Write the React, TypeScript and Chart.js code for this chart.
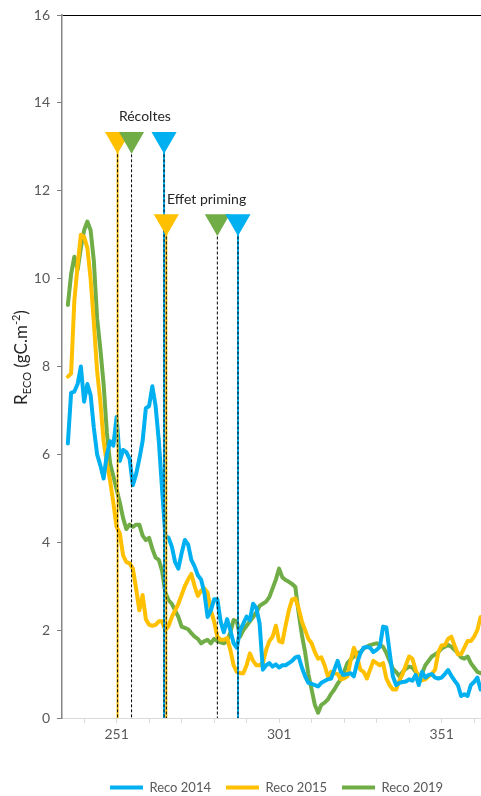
import React, { useEffect, useRef } from "react";
import { Chart, registerables } from "chart.js";

Chart.register(...registerables);

// ---- data ----
const days = [
  236, 237, 238, 239, 240, 241, 242, 243, 244, 245, 246, 247, 248, 249, 250,
  251, 252, 253, 254, 255, 256, 257, 258, 259, 260, 261, 262, 263, 264, 265,
  266, 267, 268, 269, 270, 271, 272, 273, 274, 275, 276, 277, 278, 279, 280,
  281, 282, 283, 284, 285, 286, 287, 288, 289, 290, 291, 292, 293, 294, 295,
  296, 297, 298, 299, 300, 301, 302, 303, 304, 305, 306, 307, 308, 309, 310,
  311, 312, 313, 314, 315, 316, 317, 318, 319, 320, 321, 322, 323, 324, 325,
  326, 327, 328, 329, 330, 331, 332, 333, 334, 335, 336, 337, 338, 339, 340,
  341, 342, 343, 344, 345, 346, 347, 348, 349, 350, 351, 352, 353, 354, 355,
  356, 357, 358, 359, 360, 361, 362, 363,
];

const reco2014 = [
  6.25, 7.4, 7.43, 7.6, 8.0, 7.2, 7.6, 7.35, 6.6, 6.0, 5.75, 5.45, 6.0, 6.3, 6.2,
  6.85, 5.85, 6.1, 6.05, 5.9, 5.3, 5.55, 5.9, 6.3, 7.05, 7.1, 7.55, 7.1, 6.3, 5.2,
  4.15, 4.1, 3.9, 3.55, 3.4, 3.75, 4.05, 3.95, 3.6, 3.45, 3.25, 3.15, 2.85, 2.3, 2.45,
  2.7, 2.7, 2.2, 1.95, 2.25, 2.0, 1.7, 1.6, 2.0, 2.15, 2.31, 2.23, 2.6, 2.5, 2.15,
  1.1, 1.2, 1.25, 1.17, 1.22, 1.15, 1.2, 1.2, 1.25, 1.3, 1.38, 1.4, 1.15, 0.95, 0.8,
  0.78, 0.75, 0.72, 0.8, 0.84, 0.88, 0.9, 1.1, 1.3, 1.05, 0.98, 1.0, 1.02, 0.95, 1.25,
  1.47, 1.6, 1.62, 1.6, 1.5, 1.55, 1.62, 2.08, 2.06, 1.5, 0.95, 0.75, 0.8, 0.82, 0.83,
  0.88, 0.85, 0.98, 0.75, 1.05, 0.92, 0.98, 1.0, 0.92, 0.9, 0.92, 1.0, 1.09, 0.96, 0.85,
  0.75, 0.5, 0.54, 0.5, 0.75, 0.82, 0.92, 0.65,
];

const reco2015 = [
  7.77, 7.84, 9.5, 10.3, 11.0, 10.95, 10.7, 10.0, 9.0, 7.9, 7.2, 6.3, 5.8, 5.4, 4.9,
  4.35, 4.2, 3.7, 3.55, 3.52, 3.4, 2.95, 2.45, 2.8, 2.25, 2.12, 2.1, 2.12, 2.2, 2.2,
  2.0, 2.1, 2.3, 2.45, 2.6, 2.8, 3.0, 3.15, 3.28, 3.0, 2.78, 2.9, 2.95, 2.85, 2.45,
  2.2, 1.85, 1.78, 1.78, 1.82, 1.55, 1.2, 1.05, 1.02, 1.02, 1.2, 1.47, 1.3, 1.2, 1.2,
  1.25, 1.55, 1.75, 1.85, 2.1, 1.75, 1.72, 2.1, 2.45, 2.7, 2.72, 2.5, 2.2, 2.0, 1.8,
  1.7, 1.5, 1.35, 1.38, 1.2, 0.95, 1.05, 1.02, 1.0, 0.88, 0.9, 0.95, 1.3, 1.6, 1.4,
  1.1, 1.05, 0.9, 1.1, 1.3, 1.25, 1.2, 1.25, 0.9, 0.75, 0.65, 0.65, 0.85, 1.0, 1.2,
  1.4, 1.35, 1.1, 0.9, 0.86, 0.88, 0.95, 1.0, 1.1, 1.5, 1.65, 1.66, 1.8, 1.85, 1.65,
  1.45, 1.45, 1.6, 1.75, 1.75, 1.85, 2.0, 2.3,
];

const reco2019 = [
  9.4, 10.1, 10.5, 10.2, 10.7, 11.1, 11.3, 11.1, 10.4, 9.1, 8.4, 7.6, 6.5, 5.8, 5.5,
  5.2, 4.9, 4.55, 4.3, 4.4, 4.35, 4.4, 4.4, 4.15, 4.05, 4.1, 3.85, 3.65, 3.6, 3.35,
  2.85, 2.68, 2.6, 2.45, 2.3, 2.08, 2.05, 2.02, 1.93, 1.85, 1.8, 1.7, 1.75, 1.78, 1.7,
  1.8, 1.75, 1.72, 1.7, 1.75, 1.95, 2.23, 2.2, 1.85, 2.0, 2.1, 2.2, 2.3, 2.4, 2.55,
  2.6, 2.65, 2.75, 2.95, 3.15, 3.4, 3.2, 3.14, 3.1, 3.05, 2.98, 2.4, 1.9, 1.5, 1.0,
  0.65, 0.3, 0.12, 0.3, 0.35, 0.42, 0.55, 0.65, 0.78, 0.88, 1.05, 1.25, 1.33, 1.4, 1.48,
  1.5, 1.58, 1.62, 1.66, 1.68, 1.7, 1.66, 1.62, 1.48, 1.3, 1.12, 1.05, 0.95, 1.05, 1.12,
  1.17, 1.15, 1.05, 0.95, 1.02, 1.2, 1.3, 1.4, 1.45, 1.5, 1.58, 1.62, 1.66, 1.62, 1.55,
  1.48, 1.38, 1.35, 1.4, 1.25, 1.15, 1.05, 1.02,
];

const seriesLabels = ["Reco 2014", "Reco 2015", "Reco 2019"];
const C2014 = "#00B0F0";
const C2015 = "#FFC000";
const C2019 = "#70AD47";

const xTickDays = [241, 251, 261, 271, 281, 291, 301, 311, 321, 331, 341, 351, 361, 371, 381];
const xLabelDays = [251, 301, 351];

// event markers (order: 2015, 2019, 2014)
const markerColors = [C2015, C2019, C2014];
const harvestDays = [251.3, 255.6, 265.6];
const primingDays = [266.3, 282.0, 288.35];
const harvestLevel = 13.17;
const primingLevel = 11.3;

const annotationTexts = ["Récoltes", "Effet priming"];
const annotationDays = [259.7, 278.7];
const annotationValues = [13.7, 11.8];

const FONT = "Lato, 'Open Sans', sans-serif";
const GREY = "#595959";
const PLOT_LEFT = 62;
const PLOT_TOP = 15;
const PLOT_BOTTOM = 718;

export default function App() {
  const ref = useRef<HTMLCanvasElement | null>(null);

  useEffect(() => {
    if (!ref.current) return;

    const toPts = (vals: number[]) => days.map((d, i) => ({ x: d, y: vals[i] }));
    const seriesDs = [reco2014, reco2015, reco2019].map((vals, i) => ({
      type: "line" as const,
      label: seriesLabels[i],
      data: toPts(vals),
      borderColor: [C2014, C2015, C2019][i],
      backgroundColor: [C2014, C2015, C2019][i],
      borderWidth: 4,
      borderCapStyle: "round" as const,
      borderJoinStyle: "round" as const,
      pointRadius: 0,
      tension: 0,
      order: 10,
    }));

    const vlineDs: any[] = [];
    const events = [
      ...harvestDays.map((d, i) => ({ d, c: markerColors[i], lvl: harvestLevel })),
      ...primingDays.map((d, i) => ({ d, c: markerColors[i], lvl: primingLevel })),
    ];
    events.forEach(({ d, c, lvl }) => {
      const pts = [
        { x: d, y: lvl },
        { x: d, y: 0 },
      ];
      if (c !== C2019) {
        vlineDs.push({
          type: "line",
          label: "_",
          data: pts,
          borderColor: c,
          borderWidth: 2,
          pointRadius: 0,
          order: 6,
        });
      }
      vlineDs.push({
        type: "line",
        label: "_",
        data: pts,
        borderColor: "#000000",
        borderWidth: 1,
        borderDash: [3, 2],
        pointRadius: 0,
        order: 5,
      });
    });

    const markerDs = [harvestDays, primingDays].map((arr, k) => ({
      type: "line" as const,
      label: "_",
      data: arr.map((d) => ({ x: d, y: k === 0 ? harvestLevel : primingLevel })),
      showLine: false,
      pointStyle: "triangle" as const,
      rotation: 180,
      pointRadius: 14.5,
      pointHoverRadius: 14.5,
      pointBackgroundColor: markerColors,
      pointBorderWidth: 0,
      order: 1,
    }));

    const overlay = {
      id: "overlay",
      afterDatasetsDraw(chart: any) {
        const { ctx, scales } = chart;
        ctx.save();
        ctx.fillStyle = "#262626";
        ctx.font = `14px ${FONT}`;
        ctx.textAlign = "center";
        ctx.textBaseline = "middle";
        annotationTexts.forEach((t, i) => {
          ctx.fillText(
            t,
            scales.x.getPixelForValue(annotationDays[i]),
            scales.y.getPixelForValue(annotationValues[i])
          );
        });
        ctx.restore();
      },
      afterDraw(chart: any) {
        const { ctx, chartArea } = chart;
        const cy = (chartArea.top + chartArea.bottom) / 2 - 9;
        const big = `17px ${FONT}`;
        const small = `11px ${FONT}`;
        const parts = [
          { t: "R", f: big, dy: 0 },
          { t: "ECO", f: small, dy: 4 },
          { t: " (gC.m", f: big, dy: 0 },
          { t: "-2", f: small, dy: -7 },
          { t: ")", f: big, dy: 0 },
        ];
        ctx.save();
        let total = 0;
        parts.forEach((p) => {
          ctx.font = p.f;
          total += ctx.measureText(p.t).width;
        });
        ctx.translate(27, cy);
        ctx.rotate(-Math.PI / 2);
        ctx.fillStyle = "#262626";
        ctx.textBaseline = "alphabetic";
        ctx.textAlign = "left";
        let x = -total / 2;
        parts.forEach((p) => {
          ctx.font = p.f;
          ctx.fillText(p.t, x, p.dy);
          x += ctx.measureText(p.t).width;
        });
        ctx.restore();
      },
    };

    const chart = new Chart(ref.current, {
      type: "line",
      data: { datasets: [...seriesDs, ...vlineDs, ...markerDs] as any },
      options: {
        responsive: false,
        maintainAspectRatio: false,
        animation: false,
        events: [],
        layout: { autoPadding: false, padding: { left: 0, right: 0, top: PLOT_TOP, bottom: 0 } },
        plugins: {
          tooltip: { enabled: false },
          legend: {
            position: "bottom",
            labels: {
              usePointStyle: true,
              pointStyle: "line",
              pointStyleWidth: 33,
              padding: 15,
              color: GREY,
              font: { family: FONT, size: 13 },
              filter: (item: any) => item.datasetIndex < 3,
            },
          },
        },
        scales: {
          x: {
            type: "linear",
            min: 234.2,
            max: 385.28,
            afterBuildTicks: (s: any) => {
              s.ticks = xTickDays.map((v) => ({ value: v }));
            },
            afterFit: (s: any) => {
              const lg = s.chart.legend;
              s.height = s.chart.height - (lg ? lg.height : 0) - PLOT_BOTTOM;
              s.paddingLeft = 0;
              s.paddingRight = 0;
            },
            ticks: {
              autoSkip: false,
              maxRotation: 0,
              color: GREY,
              font: { family: FONT, size: 14 },
              callback: (v: any) => (xLabelDays.includes(Number(v)) ? String(v) : ""),
            },
            grid: {
              drawOnChartArea: false,
              tickLength: 5,
              color: "#d9d9d9",
            },
            border: { color: "#d9d9d9", width: 1 },
          },
          y: {
            min: 0,
            max: 16,
            afterFit: (s: any) => {
              s.width = PLOT_LEFT;
              s.paddingTop = 0;
              s.paddingBottom = 0;
            },
            ticks: {
              stepSize: 2,
              color: GREY,
              padding: 7,
              font: { family: FONT, size: 14 },
            },
            grid: {
              color: (c: any) => (c.tick && c.tick.value === 16 ? "#000000" : "rgba(0,0,0,0)"),
              tickColor: "#7f7f7f",
              tickLength: 5,
              lineWidth: 1,
            },
            border: { color: "#868686", width: 1.5 },
          },
        },
      },
      plugins: [overlay],
    });

    return () => chart.destroy();
  }, []);

  return (
    <div
      style={{
        position: "absolute",
        left: 0,
        top: 0,
        width: 481,
        height: 796,
        overflow: "hidden",
        background: "#ffffff",
      }}
    >
      <canvas ref={ref} width={553} height={804} style={{ display: "block" }} />
    </div>
  );
}
